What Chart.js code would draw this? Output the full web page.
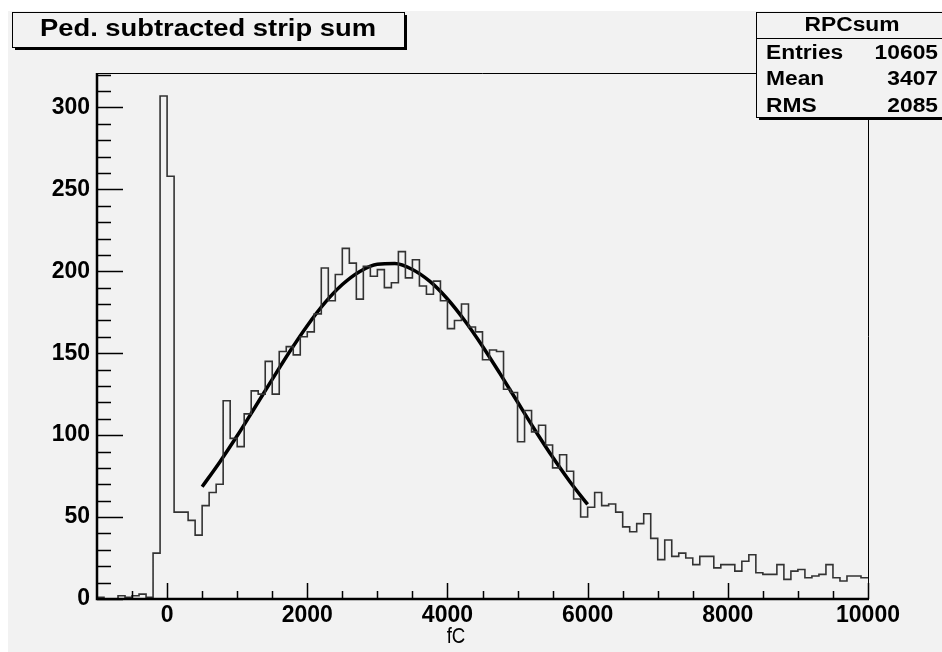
<!DOCTYPE html>
<html>
<head>
<meta charset="utf-8">
<script src="https://cdn.jsdelivr.net/npm/chart.js@4"></script>
<style>
  body { margin: 0; background: #fff; }
  #RPCsum { display: block; }
</style>
</head>
<body>
<canvas id="RPCsum" width="942" height="652"></canvas>
<script>
// histogram RPCsum : 110 bins of 100 fC, from -1000 to 10000
var binStart = -1000;
var binWidth = 100;
var counts = [
  1, 0, 0, 2, 1, 2, 3, 1, 28, 307,
  258, 53, 53, 48, 39, 57, 65, 70, 121, 98,
  93, 113, 127, 125, 145, 125, 151, 154, 149, 160,
  163, 174, 202, 182, 198, 214, 205, 183, 203, 197,
  201, 190, 193, 212, 196, 207, 191, 186, 194, 182,
  165, 170, 180, 166, 163, 146, 152, 151, 128, 126,
  96, 115, 102, 106, 94, 80, 88, 78, 61, 50,
  56, 65, 57, 58, 53, 44, 41, 46, 52, 37,
  24, 36, 26, 28, 25, 21, 26, 26, 19, 21,
  21, 17, 23, 27, 16, 15, 15, 21, 12, 17,
  18, 13, 14, 15, 21, 13, 11, 14, 14, 13
];

// gaussian fit
var fitX = [500, 750, 1000, 1250, 1500, 1750, 2000, 2250, 2500, 2750, 3000, 3250,
            3500, 3750, 4000, 4250, 4500, 4750, 5000, 5250, 5500, 5750, 6000];
var fitY = [68.5, 83.5, 99.6, 116.7, 134.0, 151.0, 166.8, 180.7, 191.9, 199.9, 204.3, 204.7,
            201.1, 193.8, 183.1, 169.7, 154.3, 137.5, 120.2, 103.0, 86.6, 71.4, 57.7];

var xLabels = [0, 2000, 4000, 6000, 8000, 10000];
var yLabels = [0, 50, 100, 150, 200, 250, 300];

var histTitle = 'Ped. subtracted strip sum';
var xTitle = 'fC';
var statsName = 'RPCsum';
var statsRows = [['Entries', '10605'], ['Mean', '3407'], ['RMS', '2085']];

var BG = '#f2f2f2';

function putText(ctx, str, x, y, font, align, sx){
  ctx.save();
  ctx.font = font;
  ctx.fillStyle = '#000';
  ctx.textBaseline = 'middle';
  ctx.textAlign = align;
  ctx.translate(x, y);
  ctx.scale(sx || 1, 1);
  ctx.fillText(str, 0, 0);
  ctx.restore();
}

function boxWithShadow(ctx, x, y, w, h, sh){
  ctx.fillStyle = '#000';
  ctx.fillRect(x + sh, y + sh, w, h);
  ctx.fillStyle = BG;
  ctx.fillRect(x, y, w, h);
  ctx.strokeStyle = '#000';
  ctx.lineWidth = 1;
  ctx.strokeRect(x + 0.5, y + 0.5, w, h);
}

var rootLook = {
  id: 'rootLook',
  beforeDraw: function(chart){
    var ctx = chart.ctx;
    ctx.save();
    ctx.fillStyle = '#fff';
    ctx.fillRect(0, 0, chart.width, chart.height);
    ctx.fillStyle = BG;
    ctx.fillRect(8, 11, chart.width - 8, chart.height - 11);
    ctx.restore();
  },
  afterDraw: function(chart){
    var ctx = chart.ctx;
    var a = chart.chartArea;
    var xs = chart.scales.x, ys = chart.scales.y;
    ctx.save();

    // frame
    ctx.strokeStyle = '#000';
    ctx.lineWidth = 1;
    ctx.beginPath();
    ctx.moveTo(a.left, a.top + 0.5);
    ctx.lineTo(a.right + 0.5, a.top + 0.5);
    ctx.lineTo(a.right + 0.5, a.bottom);
    ctx.stroke();
    ctx.lineWidth = 2.5;
    ctx.beginPath();
    ctx.moveTo(a.left, a.top);
    ctx.lineTo(a.left, a.bottom);
    ctx.lineTo(a.right + 1, a.bottom);
    ctx.stroke();

    // y ticks, inside
    ctx.lineWidth = 1.5;
    ctx.beginPath();
    for (var v = 0; v <= 320; v += 10) {
      var py = Math.round(ys.getPixelForValue(v)) + 0.5;
      var len = (v % 50 === 0) ? 26 : 14;
      ctx.moveTo(a.left, py);
      ctx.lineTo(a.left + len, py);
    }
    // x ticks, inside
    for (var t = -500; t <= 10000; t += 500) {
      var px = Math.round(xs.getPixelForValue(t)) + 0.5;
      var tl = (t % 2000 === 0) ? 16 : 8;
      ctx.moveTo(px, a.bottom);
      ctx.lineTo(px, a.bottom - tl);
    }
    ctx.stroke();

    yLabels.forEach(function(v){
      putText(ctx, String(v), a.left - 7, ys.getPixelForValue(v), 'bold 23px "Liberation Sans"', 'right');
    });
    xLabels.forEach(function(v){
      putText(ctx, String(v), xs.getPixelForValue(v), 616, 'bold 23px "Liberation Sans"', 'center');
    });
    putText(ctx, xTitle, 456, 637, '22px "Liberation Sans"', 'center', 0.85);

    // title box
    boxWithShadow(ctx, 12, 12, 392, 35, 3);
    putText(ctx, histTitle, 208, 30, 'bold 23px "Liberation Sans"', 'center', 1.19);

    // stats box
    boxWithShadow(ctx, 756, 12, 200, 105, 3);
    ctx.beginPath();
    ctx.moveTo(756, 38.5);
    ctx.lineTo(942, 38.5);
    ctx.stroke();
    putText(ctx, statsName, 852, 25, 'bold 20px "Liberation Sans"', 'center', 1.14);
    statsRows.forEach(function(r, i){
      var ry = 53 + i * 26.5;
      putText(ctx, r[0], 766, ry, 'bold 20px "Liberation Sans"', 'left', 1.14);
      putText(ctx, r[1], 938, ry, 'bold 20px "Liberation Sans"', 'right', 1.14);
    });
    ctx.restore();
  }
};

function createRpcChart(){
  var histPoints = [];
  for (let i = 0; i < counts.length; ++i) {
    histPoints.push({x: binStart + i * binWidth, y: counts[i]});
  }
  histPoints.push({x: binStart + counts.length * binWidth, y: counts[counts.length - 1]});

  var fitPoints = [];
  for (let i = 0; i < fitX.length; ++i) {
    fitPoints.push({x: fitX[i], y: fitY[i]});
  }

  const data = {
    datasets: [
      {
        label: statsName,
        data: histPoints,
        stepped: 'before',
        fill: false,
        borderColor: '#333333',
        borderWidth: 1.6,
        pointRadius: 0
      },
      {
        label: 'fit',
        data: fitPoints,
        fill: false,
        borderColor: '#000000',
        borderWidth: 3.5,
        tension: 0.4,
        cubicInterpolationMode: 'monotone',
        pointRadius: 0
      }
    ]
  };

  const option = {
    responsive: false,
    animation: false,
    events: [],
    layout: { padding: { left: 97, top: 73, right: 74, bottom: 53 } },
    plugins: { legend: { display: false }, title: { display: false }, tooltip: { enabled: false } },
    scales: {
      x: { type: 'linear', min: -1000, max: 10000, display: false },
      y: { type: 'linear', min: 0, max: 321, display: false }
    }
  };

  new Chart(document.getElementById('RPCsum'), {
    type: 'line',
    data: data,
    options: option,
    plugins: [rootLook]
  });
}
createRpcChart();
</script>
</body>
</html>
